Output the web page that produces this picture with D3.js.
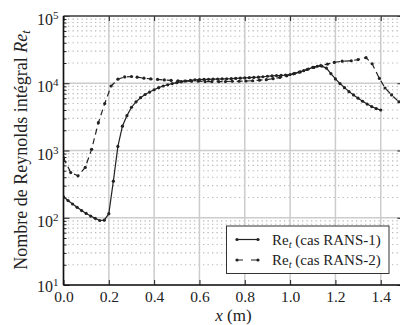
<!DOCTYPE html>
<html><head><meta charset="utf-8">
<script src="https://cdn.jsdelivr.net/npm/d3@7"></script>
<style>
html,body{margin:0;padding:0;background:#fff;}
svg{display:block;}
svg text{font-family:"Liberation Serif","DejaVu Serif",serif !important;fill:#222;}
</style></head>
<body>
<svg id="chart" width="400" height="325"></svg>
<script>
// ---- data ----
const xTicks = [0.0, 0.2, 0.4, 0.6, 0.8, 1.0, 1.2, 1.4];
const xTickLabels = ["0.0","0.2","0.4","0.6","0.8","1.0","1.2","1.4"];
const yTickExps = [1, 2, 3, 4, 5];

const rans1X = [0.00,0.02,0.04,0.06,0.08,0.10,0.12,0.14,0.16,0.18,0.20,0.22,0.24,0.26,0.28,0.30,0.32,0.34,0.36,0.38,0.40,0.42,0.44,0.46,0.48,0.50,0.52,0.54,0.56,0.58,0.60,0.62,0.64,0.66,0.68,0.70,0.72,0.74,0.76,0.78,0.80,0.82,0.84,0.86,0.88,0.90,0.92,0.94,0.96,0.98,1.00,1.02,1.04,1.06,1.08,1.10,1.12,1.14,1.16,1.18,1.20,1.22,1.24,1.26,1.28,1.30,1.32,1.34,1.36,1.38,1.40];
const rans1Y = [205,180,160,143,128,116,106,98,91,92,115,350,1150,2300,3300,4400,5300,6100,6800,7400,8000,8600,9100,9500,9900,10200,10500,10800,11000,11200,11300,11400,11450,11500,11550,11600,11650,11700,11800,11900,12000,12100,12200,12300,12500,12700,12850,13000,13100,13250,13500,14000,14600,15400,16300,17200,17900,18000,16800,13900,11600,9900,8600,7500,6700,6000,5400,4900,4500,4200,4000];

const rans2X = [0.000,0.032,0.064,0.096,0.124,0.154,0.182,0.210,0.240,0.270,0.300,0.325,0.355,0.385,0.415,0.445,0.475,0.505,0.535,0.565,0.595,0.625,0.655,0.685,0.715,0.745,0.775,0.805,0.835,0.865,0.895,0.925,0.955,0.985,1.015,1.045,1.075,1.105,1.135,1.165,1.195,1.230,1.270,1.300,1.335,1.362,1.394,1.419,1.448,1.480,1.510];
const rans2Y = [780,470,420,560,1040,2590,5000,9100,11500,12400,12600,12300,11900,11600,11400,11200,11000,10900,10800,10700,10700,10600,10600,10600,10600,10700,10700,10800,10900,11100,11300,11700,12200,12900,13800,14800,16000,17200,18300,19300,20400,21300,21600,22500,24000,19500,11800,8500,6700,5300,4300];

const seriesNames = ["RANS-1", "RANS-2"];

// ---- layout ----
const L = 63.5, R = 403.4, T = 16, B = 285;
const svg = d3.select("#chart");
const x = d3.scaleLinear().domain([0, 1.5]).range([L, R]);
const y = d3.scaleLog().domain([10, 1e5]).range([B, T]);

const majorY = yTickExps.map(e => Math.pow(10, e));
const minorY = [];
for (let e = 1; e < 5; e++) for (let k = 2; k <= 9; k++) minorY.push(k * Math.pow(10, e));

// grid
const grid = svg.append("g");
grid.selectAll(".minY").data(minorY).enter().append("line")
  .attr("x1", L).attr("x2", R).attr("y1", d => y(d)).attr("y2", d => y(d))
  .attr("stroke", "#b8b8b8").attr("stroke-width", 1.2).attr("stroke-dasharray", "1.3,3.2");
grid.selectAll(".majX").data(xTicks).enter().append("line")
  .attr("x1", d => x(d)).attr("x2", d => x(d)).attr("y1", T).attr("y2", B)
  .attr("stroke", "#cccccc").attr("stroke-width", 1.5);
grid.selectAll(".majY").data(majorY).enter().append("line")
  .attr("x1", L).attr("x2", R).attr("y1", d => y(d)).attr("y2", d => y(d))
  .attr("stroke", "#cccccc").attr("stroke-width", 1.5);

// series
svg.append("clipPath").attr("id", "clip").append("rect")
  .attr("x", L).attr("y", T).attr("width", R - L).attr("height", B - T);
const plot = svg.append("g").attr("clip-path", "url(#clip)");
const line = d3.line().x(d => x(d[0])).y(d => y(d[1]));
const s1 = rans1X.map((v, i) => [v, rans1Y[i]]);
const s2 = rans2X.map((v, i) => [v, rans2Y[i]]);
plot.append("path").datum(s2).attr("d", line).attr("fill", "none")
  .attr("stroke", "#222").attr("stroke-width", 1.2).attr("stroke-dasharray", "6,4");
plot.selectAll(".m2").data(s2).enter().append("circle")
  .attr("cx", d => x(d[0])).attr("cy", d => y(d[1])).attr("r", 1.6).attr("fill", "#222");
plot.append("path").datum(s1).attr("d", line).attr("fill", "none")
  .attr("stroke", "#222").attr("stroke-width", 1.2);
plot.selectAll(".m1").data(s1).enter().append("circle")
  .attr("cx", d => x(d[0])).attr("cy", d => y(d[1])).attr("r", 1.6).attr("fill", "#222");

// axes
const axStyle = g => { g.select(".domain").remove(); g.selectAll("line").attr("stroke", "#222").attr("stroke-width", 1); };
svg.append("g").attr("transform", `translate(0,${B})`)
  .call(d3.axisBottom(x).tickValues(xTicks).tickSize(-5).tickPadding(5.5).tickFormat((d, i) => xTickLabels[i]))
  .call(axStyle)
  .call(g => g.selectAll("text").attr("font-size", 15.5).attr("fill", "#333").attr("dy", "0.71em"));
svg.append("g").attr("transform", `translate(0,${T})`)
  .call(d3.axisTop(x).tickValues(xTicks).tickSize(-5).tickFormat(""))
  .call(axStyle);
svg.append("g").attr("transform", `translate(${L},0)`)
  .call(d3.axisLeft(y).tickValues(minorY).tickSize(-3).tickFormat(""))
  .call(axStyle);
svg.append("g").attr("transform", `translate(${R},0)`)
  .call(d3.axisRight(y).tickValues(minorY).tickSize(-3).tickFormat(""))
  .call(axStyle);
svg.append("g").attr("transform", `translate(${R},0)`)
  .call(d3.axisRight(y).tickValues(majorY).tickSize(-6).tickFormat(""))
  .call(axStyle);
const yAx = svg.append("g").attr("transform", `translate(${L},0)`)
  .call(d3.axisLeft(y).tickValues(majorY).tickSize(-6).tickPadding(14).tickFormat(""))
  .call(axStyle);
yAx.selectAll(".tick").append("text")
  .attr("x", -5).attr("y", d => d === 10 ? 6.5 : 8.5).attr("text-anchor", "end").attr("font-size", 16).attr("fill", "#333")
  .each(function(d) {
    const t = d3.select(this);
    t.append("tspan").text("10");
    t.append("tspan").attr("dy", -6).attr("font-size", 11).text(String(Math.round(Math.log10(d))));
  });

// frame
svg.append("line").attr("x1", L).attr("x2", R).attr("y1", T).attr("y2", T).attr("stroke", "#444").attr("stroke-width", 1.5);
svg.append("line").attr("x1", L).attr("x2", R).attr("y1", B).attr("y2", B).attr("stroke", "#111").attr("stroke-width", 1.6);
svg.append("line").attr("x1", L).attr("x2", L).attr("y1", T).attr("y2", B).attr("stroke", "#111").attr("stroke-width", 1.6);
svg.append("line").attr("x1", R).attr("x2", R).attr("y1", T).attr("y2", B).attr("stroke", "#444").attr("stroke-width", 1.5);

// titles
const xt = svg.append("text").attr("x", (L + R) / 2).attr("y", 321).attr("text-anchor", "middle").attr("font-size", 17);
xt.append("tspan").attr("font-style", "italic").text("x");
xt.append("tspan").text(" (m)");
const yt = svg.append("text").attr("transform", `translate(27,150) rotate(-90)`).attr("text-anchor", "middle").attr("font-size", 18);
yt.append("tspan").text("Nombre de Reynolds intégral ");
yt.append("tspan").attr("font-style", "italic").text("Re");
yt.append("tspan").attr("font-style", "italic").attr("font-size", 12.5).attr("dy", 3).text("t");

// legend
const lg = svg.append("g");
lg.append("rect").attr("x", 226.5).attr("y", 226).attr("width", 162.5).attr("height", 47.5)
  .attr("fill", "#fff").attr("stroke", "#333").attr("stroke-width", 1);
seriesNames.forEach((name, i) => {
  const cy = 239.5 + i * 20.5;
  lg.append("line").attr("x1", 237).attr("x2", 258).attr("y1", cy).attr("y2", cy)
    .attr("stroke", "#222").attr("stroke-width", 1.2).attr("stroke-dasharray", i === 0 ? null : "6,8");
  [237, 258].forEach(cx => lg.append("circle").attr("cx", cx).attr("cy", cy).attr("r", 1.6).attr("fill", "#222"));
  const t = lg.append("text").attr("x", 272).attr("y", cy + 5).attr("font-size", 15);
  t.append("tspan").text("Re");
  t.append("tspan").attr("font-style", "italic").attr("font-size", 10.5).attr("dy", 3).text("t");
  t.append("tspan").attr("dy", -3).text(` (cas ${name})`);
});
</script>
</body></html>
